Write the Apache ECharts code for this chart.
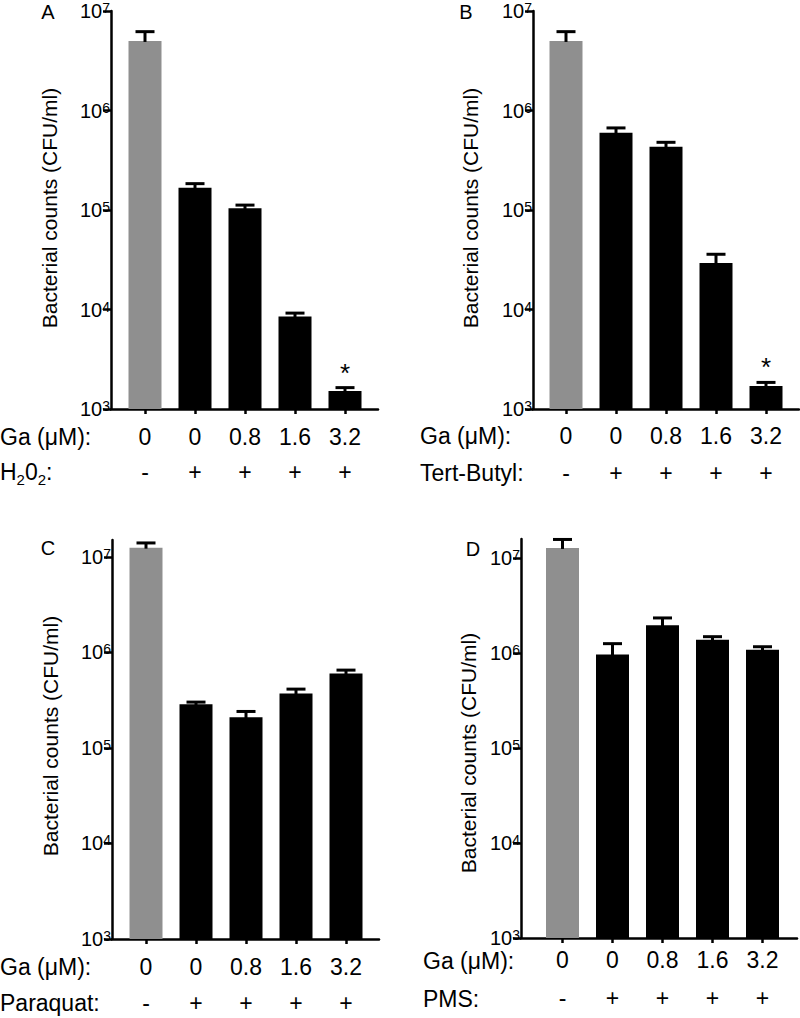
<!DOCTYPE html>
<html><head><meta charset="utf-8">
<script src="https://cdn.jsdelivr.net/npm/echarts@6/dist/echarts.min.js"></script>
<style>html,body{margin:0;padding:0;background:#fff}#c{width:800px;height:1018px}</style>
</head><body><div id="c"></div>
<script>
// ---------- data ----------
const gaDoses = ['0', '0', '0.8', '1.6', '3.2'];
const treatSigns = ['-', '+', '+', '+', '+'];
const panelLetters = ['A', 'B', 'C', 'D'];
const treatmentNames = ['{n|H}{sub|2}{n|0}{sub|2}{n|:}', 'Tert-Butyl:', 'Paraquat:', 'PMS:'];
const doseLabel = 'Ga (μM):';
const yTitle = 'Bacterial counts (CFU/ml)';
const yTickExponents = [3, 4, 5, 6, 7];

const countsA = [5.0e6, 1.67e5, 1.04e5, 8.5e3, 1.52e3];
const semA    = [1.2e6, 1.7e4, 8.0e3, 7.0e2, 1.2e2];
const sigA    = ['', '', '', '', '*'];
const countsB = [5.0e6, 5.98e5, 4.33e5, 2.93e4, 1.70e3];
const semB    = [1.2e6, 7.0e4, 4.6e4, 6.6e3, 1.5e2];
const sigB    = ['', '', '', '', '*'];
const countsC = [1.25e7, 2.86e5, 2.10e5, 3.72e5, 6.03e5];
const semC    = [1.5e6, 1.6e4, 3.1e4, 4.1e4, 5.0e4];
const sigC    = ['', '', '', '', ''];
const countsD = [1.27e7, 9.6e5, 1.95e6, 1.37e6, 1.08e6];
const semD    = [2.9e6, 2.9e5, 3.8e5, 1.1e5, 8.0e4];
const sigD    = ['', '', '', '', ''];

// ---------- layout ----------
const FONT = '"Liberation Sans", Arial, Helvetica, sans-serif';
const LFS = 23; // category label font size
const panels = [
  {counts: countsA, sem: semA, sig: sigA, grid: {left: 111, top: 11, width: 267, height: 398}, x: [-0.68, 4.66], yMax: 7,
   letter: [48, 12], title: [49, 208], rowX: 0, row1: 437, row2: 472, lab: {m: 10, L: 35}},
  {counts: countsB, sem: semB, sig: sigB, grid: {left: 533, top: 11, width: 266, height: 398}, x: [-0.66, 4.66], yMax: 7,
   letter: [466, 12], title: [470, 208], rowX: 420, row1: 436, row2: 473, lab: {m: 8.5, L: 37}},
  {counts: countsC, sem: semC, sig: sigC, grid: {left: 112, top: 540, width: 267, height: 399}, x: [-0.68, 4.66], yMax: 7.177,
   letter: [48, 548], title: [50, 736], rowX: 0, row1: 967, row2: 1003, lab: {m: 10, L: 36}},
  {counts: countsD, sem: semD, sig: sigD, grid: {left: 521, top: 539, width: 276, height: 399}, x: [-0.83, 4.69], yMax: 7.198,
   letter: [473, 549], title: [468, 753], rowX: 423, row1: 961, row2: 999, lab: {m: 3, L: 38}}
];

const grids = [], xAxes = [], yAxes = [], series = [], graphics = [];
const catIdx = gaDoses.map((_, i) => i);

panels.forEach((p, k) => {
  grids.push(Object.assign({containLabel: false}, p.grid));
  xAxes.push({
    type: 'value', gridIndex: k, min: p.x[0], max: p.x[1],
    splitLine: {show: false},
    axisLine: {show: true, onZero: false, lineStyle: {color: '#000', width: 2.5}},
    axisTick: {show: true, customValues: catIdx, length: 5, lineStyle: {color: '#000', width: 2.5}},
    axisLabel: {
      show: true, customValues: catIdx, margin: p.lab.m, color: '#000',
      formatter: v => '{g|' + gaDoses[Math.round(v)] + '}\n{t|' + treatSigns[Math.round(v)] + '}',
      rich: {
        g: {fontSize: LFS, lineHeight: p.lab.L, fontFamily: FONT, color: '#000'},
        t: {fontSize: LFS, lineHeight: p.lab.L, fontFamily: FONT, color: '#000'}
      }
    }
  });
  yAxes.push({
    type: 'value', gridIndex: k, min: 3, max: p.yMax, interval: 1,
    splitLine: {show: false},
    axisLine: {show: true, onZero: false, lineStyle: {color: '#000', width: 2.5}},
    axisTick: {show: true, customValues: yTickExponents, length: 8, lineStyle: {color: '#000', width: 2.5}},
    axisLabel: {
      show: true, customValues: yTickExponents, margin: 1, color: '#000',
      formatter: v => '{b|10}{s|' + Math.round(v) + '}',
      rich: {
        b: {fontSize: 20, lineHeight: 20, fontFamily: FONT, color: '#000'},
        s: {fontSize: 14, lineHeight: 12, verticalAlign: 'top', fontFamily: FONT, color: '#000'}
      }
    }
  });
  const data = p.counts.map((c, i) => [i, Math.log10(c), Math.log10(c + p.sem[i]), p.sig[i]]);
  series.push({
    type: 'custom', xAxisIndex: k, yAxisIndex: k, data: data,
    renderItem: (params, api) => {
      const i = api.value(0);
      const top = api.coord([i, api.value(1)]);
      const err = api.coord([i, api.value(2)]);
      const base = api.coord([i, 3]);
      const unit = api.size([1, 0])[0];
      const bw = unit * 0.66, cap = unit * 0.19;
      const control = treatSigns[i] === '-';
      const children = [
        {type: 'rect', shape: {x: top[0] - bw / 2, y: top[1], width: bw, height: base[1] - top[1]},
         style: {fill: control ? '#8f8f8f' : '#000'}},
        {type: 'line', shape: {x1: top[0], y1: top[1] + 1, x2: top[0], y2: err[1]},
         style: {stroke: '#000', lineWidth: 3}},
        {type: 'line', shape: {x1: top[0] - cap, y1: err[1], x2: top[0] + cap, y2: err[1]},
         style: {stroke: '#000', lineWidth: 3}}
      ];
      const s = data[params.dataIndex][3];
      if (s) {
        children.push({type: 'text', x: top[0], y: err[1] - 15,
          style: {text: s, fontSize: 26, fontFamily: FONT, fill: '#000', align: 'center', verticalAlign: 'middle'}});
      }
      return {type: 'group', children: children};
    }
  });
  graphics.push(
    {type: 'text', x: p.letter[0], y: p.letter[1],
     style: {text: panelLetters[k], fontSize: 20, fontFamily: FONT, fill: '#000', align: 'center', verticalAlign: 'middle'}},
    {type: 'text', x: p.title[0], y: p.title[1], rotation: Math.PI / 2,
     style: {text: yTitle, fontSize: 21, fontFamily: FONT, fill: '#000', align: 'center', verticalAlign: 'middle'}},
    {type: 'text', x: p.rowX, y: p.row1,
     style: {text: doseLabel, fontSize: LFS, lineHeight: 22, fontFamily: FONT, fill: '#000', align: 'left', verticalAlign: 'middle'}},
    {type: 'text', x: p.rowX, y: p.row2,
     style: {text: treatmentNames[k], fontSize: LFS, lineHeight: 22, fontFamily: FONT, fill: '#000', align: 'left', verticalAlign: 'middle',
       rich: {
         n: {fontSize: LFS, lineHeight: 30, fontFamily: FONT, fill: '#000'},
         sub: {fontSize: 15, lineHeight: 14, verticalAlign: 'bottom', fontFamily: FONT, fill: '#000'}
       }}}
  );
});

const chart = echarts.init(document.getElementById('c'), null, {renderer: 'svg'});
chart.setOption({
  animation: false,
  backgroundColor: '#fff',
  grid: grids, xAxis: xAxes, yAxis: yAxes, series: series,
  graphic: graphics
});
</script>
</body></html>
